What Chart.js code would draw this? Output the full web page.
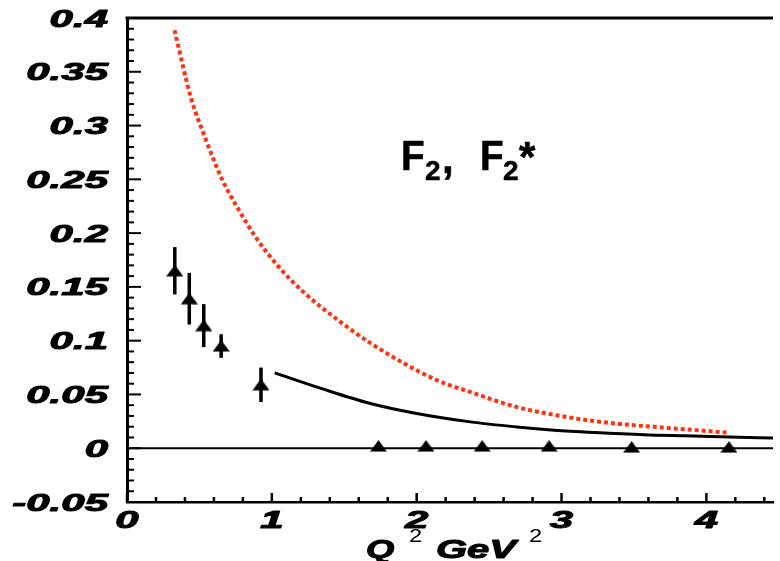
<!DOCTYPE html>
<html>
<head>
  <meta charset="UTF-8">
  <title>F2, F2*</title>
  <script src="https://cdn.jsdelivr.net/npm/chart.js"></script>
  <style>
    html, body {
      margin: 0;
      padding: 0;
      background: #fff;
    }
  </style>
</head>
<body>
  <canvas id="f2Chart" width="780" height="561"></canvas>

  <script>
    // measured points with error bars (low Q2)
    const lowQ2 = [0.33, 0.43, 0.53, 0.65, 0.925];
    const lowF2 = [0.165, 0.139, 0.114, 0.095, 0.059];
    const lowErr = [0.022, 0.024, 0.020, 0.011, 0.016];

    // points lying on zero
    const highQ2 = [1.736, 2.064, 2.452, 2.914, 3.484, 4.156];
    const highF2 = [0.002, 0.002, 0.002, 0.002, 0.001, 0.001];

    // solid black curve
    const blackQ2 = [1.02, 1.34, 1.68, 2.00, 2.37, 2.69, 2.95, 3.23, 3.57, 3.85, 4.16, 4.46];
    const blackF2 = [0.0701, 0.0556, 0.0416, 0.0323, 0.0245, 0.0198, 0.0168, 0.0146, 0.0125, 0.0115, 0.0105, 0.0095];

    // red dotted curve
    const redQ2 = [0.328, 0.442, 0.545, 0.658, 0.772, 0.886, 1.046, 1.228, 1.456, 1.684, 1.912, 2.139, 2.367, 2.686, 2.95, 3.267, 3.69, 4.144];
    const redF2 = [0.3886, 0.3256, 0.2868, 0.2495, 0.2216, 0.1967, 0.1688, 0.1440, 0.1192, 0.0975, 0.0789, 0.0633, 0.0524, 0.0385, 0.031, 0.0245, 0.0193, 0.0146];

    // zero line
    const zeroQ2 = [0, 4.46];
    const zeroF2 = [0, 0];

    // axis ticks
    const xTickValues = [0, 1, 2, 3, 4];
    const xTickLabels = ['0', '1', '2', '3', '4'];
    const yTickValues = [-0.05, 0, 0.05, 0.1, 0.15, 0.2, 0.25, 0.3, 0.35, 0.4];
    const yTickLabels = ['-0.05', '0', '0.05', '0.1', '0.15', '0.2', '0.25', '0.3', '0.35', '0.4'];

    const toPoints = (xs, ys) => xs.map((x, i) => ({ x: x, y: ys[i] }));

    // flat triangle marker
    const tri = document.createElement('canvas');
    tri.width = 17;
    tri.height = 12;
    const tctx = tri.getContext('2d');
    tctx.fillStyle = '#000';
    tctx.beginPath();
    tctx.moveTo(0, 11.5);
    tctx.lineTo(17, 11.5);
    tctx.lineTo(8.5, 0);
    tctx.closePath();
    tctx.fill();

    const STRETCH = 1.75;
    const LABEL_FONT = 'bold italic 24px "Liberation Sans", Arial, sans-serif';

    function wideText(ctx, text, x, y, align, font, sx, heavy) {
      ctx.save();
      ctx.font = font;
      ctx.translate(x, y);
      ctx.scale(sx, 1);
      ctx.textAlign = align;
      ctx.textBaseline = 'alphabetic';
      ctx.fillText(text, 0, 0);
      if (heavy) {
        ctx.lineWidth = heavy;
        ctx.lineJoin = 'round';
        ctx.strokeText(text, 0, 0);
      }
      ctx.restore();
    }

    const errorBars = {
      id: 'errorBars',
      beforeDatasetsDraw(chart) {
        const ctx = chart.ctx;
        const xs = chart.scales.x, ys = chart.scales.y;
        ctx.save();
        ctx.strokeStyle = '#000';
        ctx.lineWidth = 3.5;
        lowQ2.forEach((q, i) => {
          const px = xs.getPixelForValue(q);
          ctx.beginPath();
          ctx.moveTo(px, ys.getPixelForValue(lowF2[i] + lowErr[i]));
          ctx.lineTo(px, ys.getPixelForValue(lowF2[i] - lowErr[i]));
          ctx.stroke();
        });
        ctx.restore();
      }
    };

    const axesDecor = {
      id: 'axesDecor',
      afterDraw(chart) {
        const ctx = chart.ctx;
        const xs = chart.scales.x, ys = chart.scales.y;
        const area = chart.chartArea;
        ctx.save();
        ctx.fillStyle = '#000';
        ctx.strokeStyle = '#000';

        // top frame
        ctx.lineWidth = 3;
        ctx.beginPath();
        ctx.moveTo(area.left - 1.5, area.top);
        ctx.lineTo(area.right, area.top);
        ctx.stroke();

        // y ticks (major + 4 minor)
        ctx.lineWidth = 2;
        for (let i = 0; i < yTickValues.length; i++) {
          const py = ys.getPixelForValue(yTickValues[i]);
          ctx.beginPath();
          ctx.moveTo(area.left, py);
          ctx.lineTo(area.left + 14, py);
          ctx.stroke();
          if (i < yTickValues.length - 1) {
            const step = (yTickValues[i + 1] - yTickValues[i]) / 5;
            for (let k = 1; k < 5; k++) {
              const my = ys.getPixelForValue(yTickValues[i] + k * step);
              ctx.beginPath();
              ctx.moveTo(area.left, my);
              ctx.lineTo(area.left + 7, my);
              ctx.stroke();
            }
          }
          wideText(ctx, yTickLabels[i], 108, py + 8.5, 'right', LABEL_FONT, STRETCH, 1);
        }

        // x ticks (major + minor every 0.2)
        ctx.lineWidth = 2.5;
        for (let i = 0; i < xTickValues.length; i++) {
          const px = xs.getPixelForValue(xTickValues[i]);
          ctx.beginPath();
          ctx.moveTo(px, area.bottom);
          ctx.lineTo(px, area.bottom - 9);
          ctx.stroke();
          for (let k = 1; k < 5; k++) {
            const v = xTickValues[i] + k * 0.2;
            if (v > xs.max) break;
            const mx = xs.getPixelForValue(v);
            ctx.beginPath();
            ctx.moveTo(mx, area.bottom);
            ctx.lineTo(mx, area.bottom - 5);
            ctx.stroke();
          }
          wideText(ctx, xTickLabels[i], px, 528, 'center', LABEL_FONT, STRETCH, 1);
        }

        // x axis title: Q^2 GeV^2
        const titleFont = 'bold italic 25px "Liberation Sans", Arial, sans-serif';
        const supFont = '19px "Liberation Sans", Arial, sans-serif';
        wideText(ctx, 'Q', 366, 558, 'left', titleFont, 1.45, 1);
        wideText(ctx, '2', 409, 542, 'left', supFont, 1.25);
        wideText(ctx, 'GeV', 436, 558, 'left', titleFont, 1.6, 1);
        wideText(ctx, '2', 529, 542, 'left', supFont, 1.25);

        // annotation F2, F2*
        const ax = xs.getPixelForValue(1.905);
        const ay = ys.getPixelForValue(0.2588);
        const big = 'bold 42px "Liberation Sans", Arial, sans-serif';
        const sub = 'bold 28px "Liberation Sans", Arial, sans-serif';
        wideText(ctx, 'F', ax - 2, ay, 'left', big, 0.92, 0.6);
        wideText(ctx, '2', ax + 22, ay + 10, 'left', sub, 1, 0.5);
        wideText(ctx, ',', ax + 39, ay + 3, 'left', big, 1, 0.6);
        wideText(ctx, 'F', ax + 77, ay, 'left', big, 0.92, 0.6);
        wideText(ctx, '2', ax + 100, ay + 10, 'left', sub, 1, 0.5);
        wideText(ctx, '*', ax + 116, ay + 1, 'left', big, 1, 0.6);

        ctx.restore();
      }
    };

    new Chart(document.getElementById('f2Chart'), {
      type: 'scatter',
      data: {
        datasets: [
          {
            label: 'low Q2 data',
            data: toPoints(lowQ2, lowF2),
            pointStyle: tri,
            pointRadius: 6,
            showLine: false
          },
          {
            label: 'zero data',
            data: toPoints(highQ2, highF2),
            pointStyle: tri,
            pointRadius: 6,
            showLine: false
          },
          {
            label: 'F2',
            data: toPoints(blackQ2, blackF2),
            showLine: true,
            borderColor: '#000',
            borderWidth: 3,
            pointRadius: 0,
            cubicInterpolationMode: 'monotone'
          },
          {
            label: 'F2*',
            data: toPoints(redQ2, redF2),
            showLine: true,
            borderColor: '#ff3311',
            borderWidth: 4,
            borderDash: [4, 3],
            borderCapStyle: 'butt',
            pointRadius: 0,
            cubicInterpolationMode: 'monotone'
          },
          {
            label: 'zero',
            data: toPoints(zeroQ2, zeroF2),
            showLine: true,
            borderColor: '#000',
            borderWidth: 2,
            pointRadius: 0
          }
        ]
      },
      options: {
        responsive: false,
        animation: false,
        layout: {
          padding: { left: 127, top: 18, right: 0, bottom: 59 }
        },
        plugins: {
          legend: { display: false },
          tooltip: { enabled: false }
        },
        scales: {
          x: {
            type: 'linear',
            min: 0,
            max: 4.46,
            ticks: { display: false },
            grid: { display: false, drawTicks: false },
            border: { display: true, color: '#000', width: 2.5 }
          },
          y: {
            type: 'linear',
            min: -0.05,
            max: 0.4,
            ticks: { display: false },
            grid: { display: false, drawTicks: false },
            border: { display: true, color: '#000', width: 3 }
          }
        }
      },
      plugins: [errorBars, axesDecor]
    });
  </script>
</body>
</html>
